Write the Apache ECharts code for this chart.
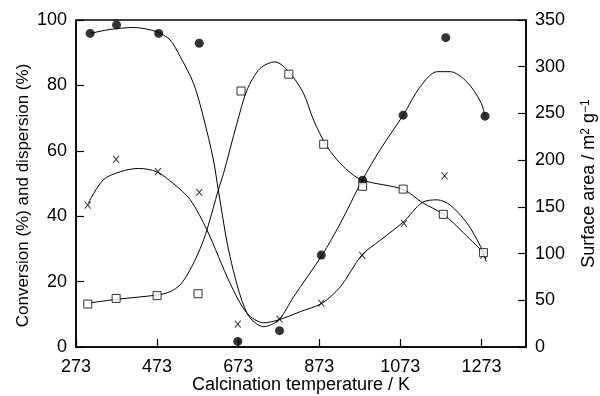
<!DOCTYPE html>
<html>
<head>
<meta charset="utf-8">
<script src="https://cdn.jsdelivr.net/npm/echarts@6/dist/echarts.min.js"></script>
<style>
  html, body { margin: 0; padding: 0; background: #fff; }
  #chart { width: 600px; height: 396px; }
</style>
</head>
<body>
<div id="chart"></div>
<script>
// x axis starts at 273 K; values are kept in K and shifted when plotted
const xStart = 273
const xTicks = [273, 473, 673, 873, 1073, 1273]

// conversion (%) - filled circles, left axis
const convT = [308, 373, 477, 577, 672, 775, 878, 980, 1080, 1185, 1282]
const convVal = [95.9, 98.5, 95.9, 92.9, 1.7, 5.0, 28.1, 51.0, 70.9, 94.6, 70.6]
const convFitT = [308, 357, 415, 472, 505, 530, 563, 587, 612, 624, 653, 695, 736, 773, 810, 880, 925, 979, 1024, 1080, 1122, 1164, 1196, 1237, 1271, 1282]
const convFitVal = [95.9, 97.1, 97.7, 96.4, 93.9, 88.8, 80.6, 70.4, 57.2, 48, 27.6, 10.3, 6.2, 8.3, 15.4, 28.1, 37.8, 51, 60.5, 70.9, 79.6, 84.2, 84.2, 81.1, 75, 70.6]

// dispersion (%) - x markers, left axis
const dispT = [302, 372, 475, 577, 672, 775, 878, 979, 1082, 1182, 1278]
const dispVal = [43.4, 57.4, 53.6, 47.3, 7.0, 8.5, 13.4, 28.0, 37.8, 52.3, 28]
const dispFitT = [303, 340, 382, 427, 472, 513, 555, 596, 653, 695, 736, 773, 826, 880, 925, 978, 1024, 1081, 1127, 1164, 1196, 1238, 1271, 1285]
const dispFitVal = [43.9, 51.1, 53.6, 54.6, 53.6, 50, 45, 35.8, 19.5, 10.3, 7.4, 8.3, 10.8, 13.4, 18.4, 28.1, 32.7, 38.3, 44.2, 45, 43.4, 37.8, 30.7, 26.1]

// surface area (m2/g) - open squares, right axis
const areaT = [302, 372, 473, 574, 680, 798, 884, 980, 1080, 1179, 1278]
const areaVal = [46, 52, 55, 57, 274, 292, 217, 172, 169, 142, 101]
const areaFitT = [303, 374, 474, 505, 530, 554, 579, 596, 624, 637, 670, 695, 727, 764, 801, 834, 859, 892, 933, 978, 1080, 1127, 1180, 1229, 1279]
const areaFitVal = [46.9, 51.1, 55.7, 59.2, 66.5, 82.3, 105, 125.3, 168, 185.9, 239.4, 275.1, 298.2, 305.2, 293, 271.6, 242.9, 214.6, 192.9, 178.9, 168.7, 154.7, 141.8, 122.2, 100.8]

const pairs = (ts, vs) => ts.map((t, i) => [t - xStart, vs[i]])

const font = 'Liberation Sans, Arial, Helvetica, sans-serif'
const labelStyle = { color: '#000', fontSize: 18, fontFamily: font }

const chart = echarts.init(document.getElementById('chart'))

const fitLine = (name, data, yAxisIndex) => ({
  name: name,
  type: 'line',
  yAxisIndex: yAxisIndex,
  data: data,
  smooth: 0.3,
  showSymbol: false,
  silent: true,
  lineStyle: { color: '#000', width: 1 },
  z: 2
})

const option = {
  animation: false,
  backgroundColor: '#fff',
  grid: {
    left: 76,
    right: 74,
    top: 20,
    bottom: 49,
    containLabel: false,
    outerBoundsMode: 'none',
    show: true,
    borderColor: '#000',
    borderWidth: 1.5,
    backgroundColor: 'transparent'
  },
  xAxis: {
    type: 'value',
    min: 0,
    max: 1110,
    interval: 200,
    name: 'Calcination temperature / K',
    nameLocation: 'middle',
    nameGap: 29,
    nameMoveOverlap: false,
    nameTextStyle: labelStyle,
    axisLine: { lineStyle: { color: '#000', width: 1.5 } },
    axisTick: { inside: true, length: 8, lineStyle: { color: '#000', width: 1.2 } },
    axisLabel: Object.assign({}, labelStyle, {
      margin: 11,
      showMaxLabel: false,
      formatter: v => xTicks.includes(v + xStart) ? String(v + xStart) : ''
    }),
    splitLine: { show: false }
  },
  yAxis: [
    {
      type: 'value',
      min: 0,
      max: 100,
      interval: 20,
      position: 'left',
      name: 'Conversion (%) and dispersion (%)',
      nameLocation: 'middle',
      nameRotate: 90,
      nameGap: 44,
      nameMoveOverlap: false,
      nameTextStyle: Object.assign({}, labelStyle, { fontSize: 17, padding: [0, 24, 0, 0] }),
      axisLine: { show: true, lineStyle: { color: '#000', width: 1.5 } },
      axisTick: { show: true, inside: true, length: 8, lineStyle: { color: '#000', width: 1.2 } },
      axisLabel: Object.assign({}, labelStyle, { margin: 9 }),
      splitLine: { show: false }
    },
    {
      type: 'value',
      min: 0,
      max: 350,
      interval: 50,
      position: 'right',
      name: 'Surface area / m{sup|2} g{sup|\u22121}',
      nameLocation: 'middle',
      nameRotate: 90,
      nameGap: 54,
      nameMoveOverlap: false,
      nameTextStyle: Object.assign({}, labelStyle, {
        rich: {
          sup: { fontSize: 12, fontFamily: font, color: '#000', verticalAlign: 'top', lineHeight: 10 }
        }
      }),
      axisLine: { show: true, lineStyle: { color: '#000', width: 1.5 } },
      axisTick: { show: true, inside: true, length: 8, lineStyle: { color: '#000', width: 1.2 } },
      axisLabel: Object.assign({}, labelStyle, { margin: 9 }),
      splitLine: { show: false }
    }
  ],
  series: [
    fitLine('conversion fit', pairs(convFitT, convFitVal), 0),
    fitLine('dispersion fit', pairs(dispFitT, dispFitVal), 0),
    fitLine('surface area fit', pairs(areaFitT, areaFitVal), 1),
    {
      name: 'Conversion',
      type: 'scatter',
      yAxisIndex: 0,
      data: pairs(convT, convVal),
      symbol: 'circle',
      symbolSize: 9,
      itemStyle: { color: '#000' },
      z: 4
    },
    {
      name: 'Dispersion',
      type: 'scatter',
      yAxisIndex: 0,
      data: pairs(dispT, dispVal),
      symbol: 'path://M0,0L10,12M10,0L0,12',
      symbolSize: [6, 7],
      itemStyle: { color: 'rgba(0,0,0,0)', borderColor: '#000', borderWidth: 1 },
      z: 3
    },
    {
      name: 'Surface area',
      type: 'scatter',
      yAxisIndex: 1,
      data: pairs(areaT, areaVal),
      symbol: 'rect',
      symbolSize: 8,
      itemStyle: { color: '#fff', borderColor: '#000', borderWidth: 1 },
      z: 5
    }
  ]
}

chart.setOption(option)
</script>
</body>
</html>
